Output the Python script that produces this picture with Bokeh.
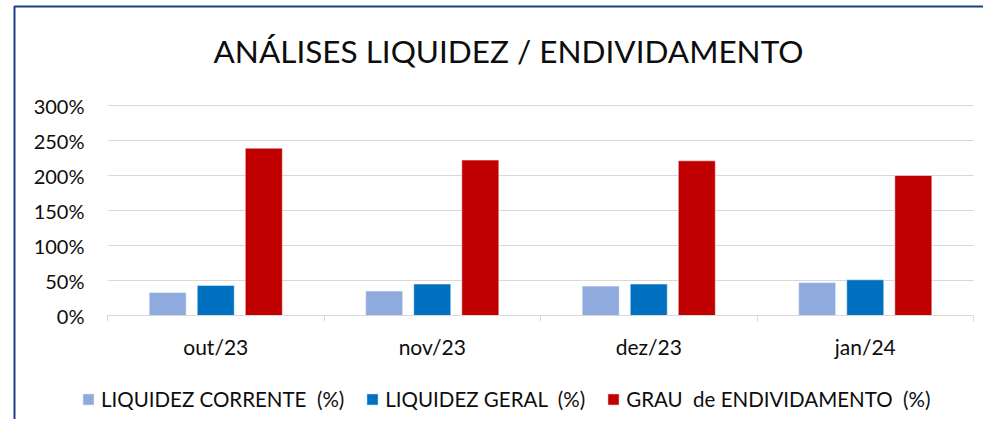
import numpy as np
from bokeh.plotting import figure
from bokeh.models import (FixedTicker, PrintfTickFormatter, Legend, LegendItem,
                          Label, Range1d, ColumnDataSource, BoxAnnotation)
from bokeh.embed import file_html
from bokeh.resources import INLINE

# ---- data ----
categories = ["out/23", "nov/23", "dez/23", "jan/24"]
liquidez_corrente = [33, 35, 42, 47]
liquidez_geral = [43, 45, 45, 51]
grau_endividamento = [239, 222, 221, 200]
y_ticks = [0, 50, 100, 150, 200, 250, 300]
series_names = ["LIQUIDEZ CORRENTE  (%)", "LIQUIDEZ GERAL  (%)", "GRAU  de ENDIVIDAMENTO  (%)"]
series_colors = ["#8FAADC", "#0070C0", "#C00000"]
title_text = "ANÁLISES LIQUIDEZ / ENDIVIDAMENTO"

FONT = "Lato"
TXT = "#0d0d0d"
BORDER = "#1F3C88"
GRID = "#D9D9D9"

# ---- layout (pixels inside the figure) ----
W, H = 983, 419
PLOT_L, PLOT_R = 107, 973     # where x = 0 and x = n fall
PLOT_T, PLOT_B = 105, 315     # where y = 300 and y = 0 fall
n = len(categories)
ymax = y_ticks[-1]
px_x = (PLOT_R - PLOT_L) / n
px_y = (PLOT_B - PLOT_T) / ymax
x_range = Range1d(-PLOT_L / px_x, n + (W - PLOT_R) / px_x)
y_range = Range1d(-(H - PLOT_B) / px_y, ymax + PLOT_T / px_y)

p = figure(width=W, height=H, output_backend="svg", toolbar_location=None,
           x_range=x_range, y_range=y_range,
           min_border_left=0, min_border_right=0, min_border_top=0, min_border_bottom=0)
p.background_fill_color = "white"
p.border_fill_color = "white"
p.outline_line_color = None
p.xgrid.visible = False
p.ygrid.visible = False

# gridlines over the plotting area only
p.segment(x0=0, x1=n, y0=y_ticks, y1=y_ticks, line_color=GRID, line_width=1)

centers = np.arange(n) + 0.5
bar_w = 0.171
offs = [-0.222, 0.0, 0.222]
renderers = []
for vals, off, col in zip([liquidez_corrente, liquidez_geral, grau_endividamento], offs, series_colors):
    src = ColumnDataSource(dict(x=centers + off, top=vals))
    r = p.vbar(x="x", top="top", bottom=0, width=bar_w, source=src,
               fill_color=col, line_color="white", line_width=0.5)
    renderers.append(r)

# x axis
xa = p.xaxis[0]
xa.fixed_location = 0
xa.bounds = (0, n)
xa.ticker = FixedTicker(ticks=list(centers), minor_ticks=list(range(n + 1)))
xa.major_label_overrides = {float(c): lab for c, lab in zip(centers, categories)}
xa.major_tick_line_color = None
xa.major_tick_out = 0
xa.major_tick_in = 0
xa.minor_tick_line_color = GRID
xa.minor_tick_out = 6
xa.minor_tick_in = 0
xa.axis_line_color = GRID
xa.axis_line_width = 1
xa.major_label_text_font = FONT
xa.major_label_text_font_size = "21px"
xa.major_label_text_color = TXT
xa.major_label_standoff = 12

# y axis
ya = p.yaxis[0]
ya.fixed_location = 0
ya.bounds = (0, ymax)
ya.ticker = FixedTicker(ticks=y_ticks)
ya.formatter = PrintfTickFormatter(format="%d%%")
ya.axis_line_color = None
ya.major_tick_line_color = None
ya.minor_tick_line_color = None
ya.major_tick_out = 0
ya.major_tick_in = 0
ya.major_label_text_font = FONT
ya.major_label_text_font_size = "20px"
ya.major_label_text_color = TXT
ya.major_label_standoff = 23

# title
title = Label(x=508, y=H - 50, x_units="screen", y_units="screen", text=title_text,
              text_align="center", text_baseline="alphabetic", text_font=FONT,
              text_font_size="31.5px", text_color=TXT)
p.add_layout(title)

# legend
legend = Legend(items=[LegendItem(label=nm, renderers=[r]) for nm, r in zip(series_names, renderers)],
                orientation="horizontal", location=(81, 8))
legend.label_text_font = FONT
legend.label_text_font_size = "20.5px"
legend.label_text_color = TXT
legend.glyph_width = 14
legend.glyph_height = 14
legend.label_standoff = 6
legend.spacing = 21
legend.padding = 0
legend.margin = 0
legend.border_line_color = None
legend.background_fill_alpha = 0
p.add_layout(legend, "center")

# chart-area border (left and top edges visible)
border = BoxAnnotation(left=14, right=5000, top=H - 6, bottom=-5000,
                       left_units="screen", right_units="screen",
                       top_units="screen", bottom_units="screen",
                       fill_alpha=0, line_color=BORDER, line_alpha=1.0, line_width=2)
p.add_layout(border)

open("out.html", "w").write(file_html(p, INLINE))
